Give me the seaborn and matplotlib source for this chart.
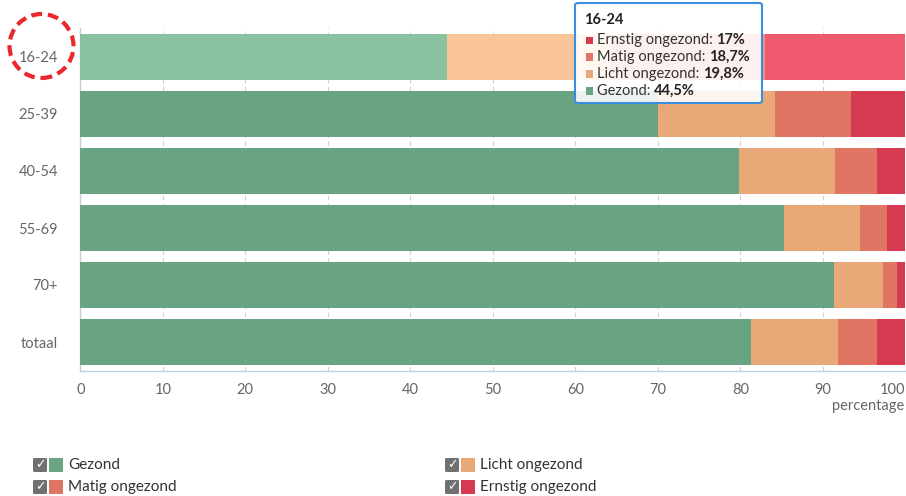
import matplotlib
matplotlib.use('Agg')
import matplotlib.pyplot as plt
import seaborn as sns
import pandas as pd
import numpy as np
from matplotlib.patches import Rectangle, Ellipse, FancyBboxPatch

# data (percentages per age group)
groups = ['16-24', '25-39', '40-54', '55-69', '70+', 'totaal']
gezond = [44.5, 70.0, 79.9, 85.3, 91.3, 81.3]
licht = [19.8, 14.2, 11.6, 9.2, 6.0, 10.5]
matig = [18.7, 9.2, 5.1, 3.3, 1.7, 4.8]
ernstig = [17.0, 6.6, 3.4, 2.2, 1.0, 3.4]
series_names = ['Gezond', 'Licht ongezond', 'Matig ongezond', 'Ernstig ongezond']
x_ticks = [0, 10, 20, 30, 40, 50, 60, 70, 80, 90, 100]

colors = ['#68a482', '#e8a878', '#e07563', '#d63a50']
hover_colors = ['#88c2a0', '#f8c498', '#f09382', '#f05a6e']

FONT = ['Lato', 'DejaVu Sans']
sns.set_style('white')
plt.rcParams['font.family'] = FONT

df = pd.DataFrame({'groep': groups, 'Gezond': gezond, 'Licht ongezond': licht,
                   'Matig ongezond': matig, 'Ernstig ongezond': ernstig})
cum = df[series_names].cumsum(axis=1)

W, H = 906, 496
fig = plt.figure(figsize=(W / 100, H / 100), dpi=100)
ax = fig.add_axes([80.3 / W, (H - 370.5) / H, 825 / W, 342 / H])

# stacked bars: draw the longest cumulative first
for i in range(len(series_names) - 1, -1, -1):
    name = series_names[i]
    pal = [hover_colors[i]] + [colors[i]] * (len(groups) - 1)
    sns.barplot(x=cum[name], y=df['groep'], hue=df['groep'], palette=pal,
                legend=False, orient='h', width=0.82, ax=ax, saturation=1,
                linewidth=0, zorder=3)

ax.set_xlim(0, 100)
ax.set_ylim(len(groups) - 0.5, -0.5)
ax.set_xticks(x_ticks)
ax.set_xlabel('')
ax.set_ylabel('')
ax.grid(axis='x', color='#cfcfcf', linestyle=(0, (4, 3)), linewidth=0.8, zorder=0)
ax.grid(axis='y', visible=False)
for s in ['top', 'right']:
    ax.spines[s].set_visible(False)
ax.spines['left'].set_color('#c0d0e0')
ax.spines['bottom'].set_color('#c0d0e0')
ax.spines['left'].set_linewidth(1)
ax.spines['bottom'].set_linewidth(1)
ax.tick_params(axis='x', length=0, pad=9, labelsize=10.5, labelcolor='#666666')
ax.tick_params(axis='y', which='major', length=0, pad=16, labelsize=10.5, labelcolor='#666666')
ax.set_yticks(np.arange(-0.5, len(groups), 1), minor=True)
ax.tick_params(axis='y', which='minor', length=5, color='#c0d0e0', width=1)
# last x label kept inside the chart, like the original
ax.get_xticklabels()[-1].set_horizontalalignment('right')

fig.text(832 / W, 1 - 406 / H, 'percentage', fontsize=10.5, color='#666666',
         ha='left', va='center')

# red dashed annotation circle
circ = Ellipse((41.5 / W, 1 - 46 / H), 64 / W, 64 / H, transform=fig.transFigure,
               fill=False, edgecolor='#e8282a', linewidth=3, linestyle=(0, (2.6, 1.4)))
fig.add_artist(circ)

# tooltip box
tip = FancyBboxPatch((575 / W, 1 - 103 / H), 187 / W, 100 / H,
                     boxstyle='round,pad=0,rounding_size=0.004', transform=fig.transFigure,
                     facecolor='white', alpha=0.88, edgecolor='none', zorder=5)
fig.add_artist(tip)
tip_edge = FancyBboxPatch((575 / W, 1 - 103 / H), 187 / W, 100 / H,
                          boxstyle='round,pad=0,rounding_size=0.004', transform=fig.transFigure,
                          facecolor='none', edgecolor='#3a8ee0', linewidth=1.5, zorder=6)
fig.add_artist(tip_edge)
fig.text(584 / W, 1 - 20 / H, groups[0], fontsize=10.5, fontweight='bold', color='#222222',
         va='center', zorder=7)
tip_rows = [('Ernstig ongezond', ernstig[0], colors[3]),
            ('Matig ongezond', matig[0], colors[2]),
            ('Licht ongezond', licht[0], colors[1]),
            ('Gezond', gezond[0], colors[0])]
fig.canvas.draw()
renderer = fig.canvas.get_renderer()
for k, (name, val, c) in enumerate(tip_rows):
    yy = 1 - (40 + k * 17) / H
    fig.add_artist(Rectangle((586 / W, yy - 3.5 / H), 7 / W, 7 / H, transform=fig.transFigure,
                             facecolor=c, edgecolor='none', zorder=7))
    t = fig.text(597 / W, yy, name + ': ', fontsize=10.5, color='#333333', va='center', zorder=7)
    bb = t.get_window_extent(renderer)
    val_txt = ('%g' % val).replace('.', ',') + '%'
    fig.text(bb.x1 / W, yy, val_txt, fontsize=10.5, fontweight='bold', color='#222222',
             va='center', zorder=7)

# legend with checkboxes
leg_items = [('Gezond', colors[0], 33, 465), ('Licht ongezond', colors[1], 445, 465),
             ('Matig ongezond', colors[2], 33, 487), ('Ernstig ongezond', colors[3], 445, 487)]
for name, c, lx, ly in leg_items:
    box = FancyBboxPatch((lx / W, (H - ly - 7) / H), 14 / W, 14 / H,
                         boxstyle='round,pad=0,rounding_size=0.002', transform=fig.transFigure,
                         facecolor='#707070', edgecolor='none')
    fig.add_artist(box)
    fig.text((lx + 7) / W, (H - ly) / H, '\u2713', fontsize=9, color='white', ha='center',
             va='center', family='DejaVu Sans', fontweight='bold')
    fig.add_artist(Rectangle(((lx + 16) / W, (H - ly - 7) / H), 14 / W, 14 / H,
                             transform=fig.transFigure, facecolor=c, edgecolor='none'))
    fig.text((lx + 35) / W, (H - ly) / H, name, fontsize=11, color='#333333', va='center')

fig.savefig('out.png', dpi=100)
